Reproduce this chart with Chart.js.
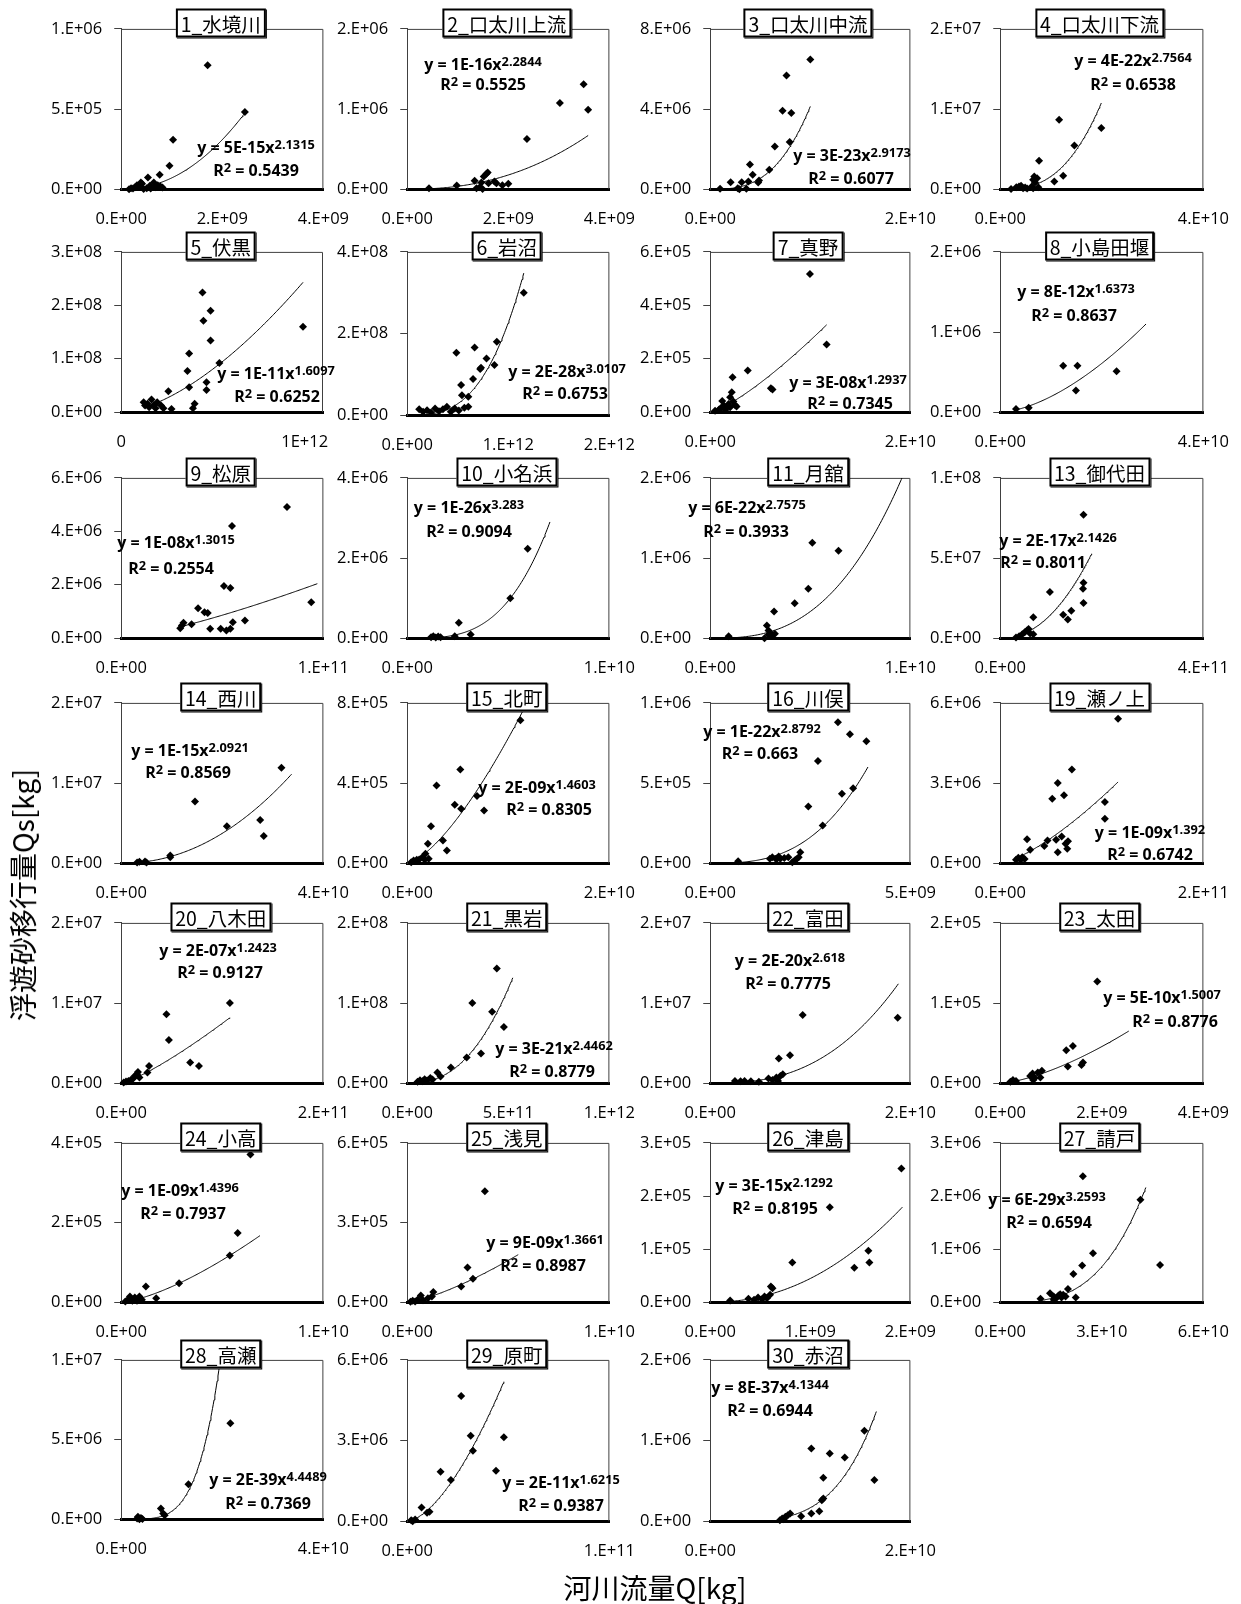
<!DOCTYPE html>
<html>
<head>
<meta charset="utf-8">
<script src="https://cdn.jsdelivr.net/npm/chart.js@4.4.1/dist/chart.umd.min.js"></script>
<style>
body { margin: 0; background: #fff; }
#page { position: relative; width: 1241px; height: 1604px; overflow: hidden; background: #fff; }
canvas { position: absolute; }
.ttl { position: absolute; z-index: 3; transform: translate(-50%, -50%); background: #fff; border: 2.5px solid #000;
       box-shadow: 1px 1px 0 #000; font: 19.5px "Noto Sans CJK JP"; line-height: 25px; padding: 0 3px; white-space: nowrap; color: #000; }
.eq { position: absolute; z-index: 2; transform: translate(-50%, -50%); font: bold 16px "Open Sans"; line-height: 1; white-space: nowrap; color: #000; }
.eq sup { font-size: 0.8em; vertical-align: 0.3em; line-height: 0; }
.axt { position: absolute; z-index: 2; font: 28px "Noto Sans CJK JP"; white-space: nowrap; color: #000; transform: translate(-50%, -50%); }
</style>
</head>
<body>
<div id="page"></div>
<script>
// station names (panel titles)
const stations = ['1_水境川', '2_口太川上流', '3_口太川中流', '4_口太川下流',
  '5_伏黒', '6_岩沼', '7_真野', '8_小島田堰',
  '9_松原', '10_小名浜', '11_月舘', '13_御代田',
  '14_西川', '15_北町', '16_川俣', '19_瀬ノ上',
  '20_八木田', '21_黒岩', '22_富田', '23_太田',
  '24_小高', '25_浅見', '26_津島', '27_請戸',
  '28_高瀬', '29_原町', '30_赤沼'];

// river flow Q (x values), one list per station
const flowQ = [
  [1.55e8,1.94e8,2.33e8,2.72e8,3.11e8,3.5e8,3.88e8,4.12e8,4.43e8,5.05e8,5.28e8,5.67e8,5.83e8,6.45e8,6.76e8,7.22e8,7.61e8,7.77e8,8.16e8,9.55e8,1.025e9,1.709e9,2.447e9],
  [4.31e8,9.8e8,1.333e9,1.37e9,1.435e9,1.467e9,1.49e9,1.514e9,1.569e9,1.592e9,1.608e9,1.725e9,1.765e9,1.882e9,2.0e9,2.369e9,3.02e9,3.49e9,3.58e9],
  [9.8e8,2.04e9,2.75e9,2.91e9,3.14e9,3.61e9,3.81e9,3.97e9,4.24e9,4.79e9,4.87e9,5.9e9,6.45e9,7.23e9,7.62e9,7.94e9,8.1e9,1.0e10],
  [2.13e9,3.16e9,3.7e9,4.1e9,4.5e9,4.9e9,5.3e9,6.2e9,6.47e9,6.47e9,6.7e9,6.86e9,7.26e9,7.5e9,7.65e9,1.065e10,1.16e10,1.24e10,1.46e10,1.99e10],
  [1.22e11,1.3e11,1.43e11,1.52e11,1.65e11,1.78e11,1.87e11,1.96e11,2.17e11,2.3e11,2.57e11,2.74e11,3.61e11,3.7e11,3.7e11,3.91e11,4.0e11,4.43e11,4.48e11,4.65e11,4.65e11,4.87e11,4.87e11,5.35e11,9.91e11],
  [1.18e11,1.57e11,1.96e11,2.35e11,2.75e11,3.14e11,3.53e11,3.92e11,4.31e11,4.7e11,5.1e11,5.65e11,6.04e11,4.86e11,5.33e11,5.41e11,6.04e11,6.51e11,6.67e11,7.22e11,7.3e11,7.84e11,8.63e11,8.86e11,1.153e12],
  [4.8e8,8.8e8,1.04e9,1.2e9,1.35e9,1.51e9,1.67e9,1.83e9,1.99e9,1.99e9,2.15e9,2.23e9,2.31e9,2.47e9,2.63e9,3.75e9,6.06e9,6.22e9,9.96e9,1.163e10],
  [3.1e9,5.6e9,1.24e10,1.49e10,1.52e10,2.29e10],
  [2.92e10,3.0e10,3.08e10,3.48e10,3.8e10,4.12e10,4.28e10,4.4e10,4.92e10,5.08e10,5.2e10,5.4e10,5.4e10,5.48e10,5.52e10,6.12e10,8.2e10,9.4e10],
  [1.18e9,1.29e9,1.41e9,1.53e9,1.65e9,2.35e9,2.55e9,3.14e9,5.1e9,5.96e9],
  [9.2e8,2.71e9,2.83e9,2.91e9,2.91e9,2.99e9,3.1e9,3.19e9,3.23e9,4.22e9,4.9e9,5.1e9,6.41e9],
  [3.1e10,3.72e10,4.34e10,4.81e10,5.27e10,5.58e10,5.89e10,6.51e10,6.51e10,9.77e10,1.24e11,1.33e11,1.4e11,1.63e11,1.64e11,1.64e11,1.64e11],
  [3.14e9,3.6e9,4.7e9,5.0e9,9.7e9,9.7e9,1.46e10,2.09e10,2.75e10,2.82e10,3.17e10],
  [3.9e8,6.3e8,9.4e8,1.18e9,1.49e9,1.73e9,1.8e9,2.04e9,2.12e9,2.35e9,2.9e9,3.53e9,3.92e9,4.7e9,5.25e9,5.33e9,6.9e9,7.6e9,1.12e10],
  [6.97e8,1.49e9,1.55e9,1.65e9,1.71e9,1.75e9,1.85e9,1.95e9,2.05e9,2.11e9,2.15e9,2.21e9,2.25e9,2.45e9,2.69e9,2.81e9,3.19e9,3.29e9,3.49e9,3.57e9,3.9e9],
  [1.55e10,1.78e10,2.02e10,2.17e10,2.4e10,2.64e10,2.95e10,4.34e10,4.65e10,5.12e10,5.5e10,5.66e10,5.66e10,6.05e10,6.28e10,6.43e10,6.6e10,6.67e10,7.05e10,1.03e11,1.03e11,1.16e11],
  [2.4e9,4.7e9,7.1e9,9.4e9,1.18e10,1.33e10,1.57e10,1.65e10,1.8e10,2.59e10,2.75e10,4.47e10,4.71e10,6.82e10,7.69e10,1.075e11],
  [5.1e10,6.3e10,7.5e10,8.6e10,9.8e10,1.14e11,1.25e11,1.49e11,1.65e11,2.16e11,2.94e11,3.22e11,3.65e11,4.2e11,4.43e11,4.78e11],
  [2.47e9,3.03e9,3.43e9,4.06e9,4.86e9,5.82e9,6.22e9,6.61e9,6.77e9,6.85e9,7.01e9,7.25e9,7.97e9,9.24e9,1.873e10],
  [2.0e8,2.5e8,3.1e8,5.9e8,6.36e8,6.5e8,6.8e8,7.4e8,7.9e8,8.2e8,1.3e9,1.33e9,1.43e9,1.6e9,1.63e9,1.91e9],
  [2.0e8,3.5e8,4.3e8,5.5e8,6.7e8,7.8e8,9.0e8,1.02e9,1.22e9,1.73e9,2.86e9,5.37e9,5.76e9,6.39e9],
  [1.6e8,2.7e8,3.9e8,5.1e8,6.7e8,7.8e8,1.02e9,1.22e9,1.29e9,2.67e9,2.98e9,3.25e9,3.84e9],
  [1.99e8,3.82e8,4.38e8,4.78e8,5.18e8,5.42e8,5.66e8,5.98e8,6.06e8,6.22e8,8.2e8,1.195e9,1.44e9,1.58e9,1.59e9,1.91e9],
  [1.19e10,1.47e10,1.58e10,1.58e10,1.65e10,1.72e10,1.77e10,1.81e10,1.86e10,1.93e10,2.0e10,2.16e10,2.23e10,2.42e10,2.44e10,2.74e10,4.14e10,4.72e10],
  [3.14e9,3.3e9,3.6e9,3.9e9,4.2e9,7.84e9,8.3e9,8.6e9,1.33e10,2.16e10],
  [1.96e9,2.7e9,3.9e9,7.1e9,9.8e9,1.1e10,1.65e10,2.16e10,2.67e10,3.14e10,3.25e10,4.39e10,4.78e10],
  [6.96e9,7.19e9,7.35e9,7.51e9,7.75e9,7.98e9,9.09e9,1.01e10,1.01e10,1.09e10,1.115e10,1.13e10,1.13e10,1.194e10,1.344e10,1.54e10,1.64e10]
];

// suspended sediment load Qs (y values), one list per station
const sedQs = [
  [0,6.3e3,4e3,1.25e4,2.5e4,1.67e4,4.2e4,3.33e4,2e3,6e3,7.3e4,2.1e4,4e3,4.2e4,1.25e4,2.5e4,9e4,1.67e4,1e4,1.46e5,3.08e5,7.73e5,4.81e5],
  [1.25e4,4.6e4,1.04e5,1.25e4,2.5e4,8.3e4,4e3,1.58e5,1.92e5,2.08e5,7.5e4,9.6e4,7.5e4,5e4,6.7e4,6.25e5,1.075e6,1.31e6,9.9e5],
  [2e4,3.5e5,5e4,0,3.5e5,2e4,3.8e5,1.23e6,7.2e5,3.3e5,4.3e5,9.7e5,2.13e6,3.92e6,5.67e6,2.35e6,3.8e6,6.47e6],
  [2e4,2.5e5,3.3e5,4.2e5,1.25e5,2.1e5,8e4,3.3e5,1.17e6,1.25e5,1.58e6,8.3e5,1.38e6,2.5e5,3.54e6,9.6e5,8.67e6,1.67e6,5.46e6,7.63e6],
  [1.87e7,1.24e7,1.56e7,9.3e6,2.37e7,1.37e7,7.5e6,1.87e7,1.24e7,7.5e6,3.9e7,6.2e6,7.7e7,4.67e7,1.1e8,7.5e6,1.56e7,2.24e8,1.71e8,5.6e7,4.17e7,1.9e8,1.34e8,9.2e7,1.6e8],
  [1.48e7,8.2e6,1.23e7,6.6e6,1.64e7,9.8e6,1.48e7,2.05e7,8.2e6,1.64e7,1.15e7,1.8e7,2.05e7,1.53e8,7.4e7,4.9e7,4.5e7,8.85e7,1.66e8,1.13e8,1.16e8,1.39e8,1.23e8,1.8e8,3.0e8],
  [5e3,1e4,1.5e4,4.2e4,2.5e4,8.7e3,1.87e4,3.1e4,1.87e4,5.6e4,7.5e4,1.31e5,4e4,2.7e4,2.1e4,1.56e5,9e4,8.5e4,5.17e5,2.53e5],
  [4.1e4,5.4e4,5.8e5,2.7e5,5.8e5,5.1e5],
  [3.75e5,4.75e5,5.75e5,5.25e5,1.125e6,9.75e5,9.4e5,3.5e5,3.5e5,1.95e6,2.9e5,1.875e6,3.5e5,4.2e6,6e5,6.6e5,4.91e6,1.35e6],
  [2.5e4,5e4,1.7e4,4.2e4,2.5e4,5e4,3.83e5,9.2e4,1.0e6,2.23e6],
  [2.5e4,0,1.58e5,9.6e4,4.2e4,5.4e4,4.2e4,3.33e5,5.4e4,4.37e5,6.17e5,1.19e6,1.09e6],
  [4e5,1.25e6,2.5e6,3.75e6,4.8e6,5.8e6,2.9e6,2.5e6,1.31e7,2.88e7,1.46e7,1.17e7,1.71e7,3.08e7,3.46e7,2.19e7,7.7e7],
  [8e4,1.7e5,2e5,8e4,7.5e5,9.6e5,7.7e6,4.6e6,5.4e6,3.4e6,1.19e7],
  [5e3,1.3e4,1.7e4,1.8e4,3e4,1.7e4,4.7e4,9.7e4,2.2e4,1.85e5,3.88e5,1.13e5,6.3e4,2.92e5,4.68e5,2.72e5,3.35e5,2.63e5,7.13e5],
  [1.25e4,2.7e4,3.75e4,2.3e4,4.2e4,2.7e4,3.3e4,3.75e4,6e3,1.7e4,2.5e4,3.75e4,6.9e4,3.54e5,6.38e5,2.35e5,8.8e5,4.33e5,8.04e5,4.67e5,7.6e5],
  [1.25e5,2e5,1.25e5,2.25e5,1.6e5,9e5,5e5,6.4e5,8.5e5,2.41e6,8.75e5,4.1e5,3.0e6,1.0e6,2.54e6,7.25e5,5.4e5,8.25e5,3.51e6,2.29e6,1.66e6,5.41e6],
  [8e4,2.1e5,2.9e5,4.1e5,5.8e5,9.1e5,1.12e6,1.41e6,7.1e5,1.33e6,2.16e6,8.6e6,5.4e6,2.57e6,2.16e6,1.0e7],
  [1.7e6,3.7e6,2.5e6,5e6,3.3e6,6.6e6,4.6e6,1.33e7,8.3e6,1.95e7,3.2e7,1.0e8,3.7e7,8.9e7,1.43e8,7.0e7],
  [2.9e5,2.5e5,2.9e5,2.5e5,1.7e5,5.8e5,4.1e5,7.1e5,2.9e5,3.07e6,9.1e5,1.12e6,3.49e6,8.5e6,8.17e6],
  [1.7e3,4.1e3,2.9e3,9.1e3,1.2e4,4.1e3,6.6e3,1.33e4,7.1e3,1.54e4,4.1e4,2.07e4,4.65e4,2.28e4,2.57e4,1.27e5],
  [1.7e3,7.5e3,1.43e4,3.4e3,1.17e4,3.4e3,1.43e4,5.9e3,3.94e4,1.0e4,4.78e4,1.17e5,1.74e5,3.71e5],
  [1.3e3,5e3,2.5e3,8.8e3,2.5e4,7.5e3,1.5e4,2.1e4,3.8e4,5.9e4,1.31e5,8.8e4,4.18e5],
  [3.1e3,6.3e3,4.4e3,8.8e3,5.7e3,1.07e4,7.5e3,1.38e4,2.96e4,2.64e4,7.5e4,1.79e5,6.5e4,9.7e4,7.5e4,2.52e5],
  [6.3e4,1.7e5,1.07e5,4.4e4,7.5e4,1.26e5,1.5e5,8.8e4,1.38e5,1.07e5,2.5e5,5.3e5,8.8e4,6.9e5,2.37e6,9.2e5,1.93e6,7.0e5],
  [4e4,1.5e5,0,8e4,2e4,6.7e5,3.6e5,2.5e5,2.2e6,6.02e6],
  [3.7e4,0,6.2e4,5.1e5,3.1e5,3.5e5,1.84e6,1.53e6,4.66e6,3.18e6,2.62e6,1.88e6,3.12e6],
  [1.2e4,3.3e4,2.5e4,5.4e4,7.5e4,9.5e4,6.2e4,9.5e4,9.0e5,1.24e5,2.6e5,2.8e5,5.4e5,8.4e5,7.9e5,1.12e6,5.1e5]
];

// power trendline y = a x^b : label text, plus the drawn span (from, to) and the curve value at "to"
const fitCoef = ['5E-15','1E-16','3E-23','4E-22','1E-11','2E-28','3E-08','8E-12','1E-08','1E-26','6E-22','2E-17',
  '1E-15','2E-09','1E-22','1E-09','2E-07','3E-21','2E-20','5E-10','1E-09','9E-09','3E-15','6E-29','2E-39','2E-11','8E-37'];
const fitExp = ['2.1315','2.2844','2.9173','2.7564','1.6097','3.0107','1.2937','1.6373','1.3015','3.283','2.7575','2.1426',
  '2.0921','1.4603','2.8792','1.392','1.2423','2.4462','2.618','1.5007','1.4396','1.3661','2.1292','3.2593','4.4489','1.6215','4.1344'];
const fitR2 = ['0.5439','0.5525','0.6077','0.6538','0.6252','0.6753','0.7345','0.8637','0.2554','0.9094','0.3933','0.8011',
  '0.8569','0.8305','0.663','0.6742','0.9127','0.8779','0.7775','0.8776','0.7937','0.8987','0.8195','0.6594','0.7369','0.9387','0.6944'];
const fitFrom = [1.55e8,4.31e8,9.8e8,2.13e9,1.22e11,1.18e11,4.8e8,3.1e9,2.92e10,1.18e9,9.2e8,3.1e10,
  3.14e9,3.9e8,6.97e8,1.55e10,2.4e9,5.1e10,2.47e9,2.0e8,2.0e8,1.6e8,1.99e8,1.19e10,3.14e9,1.96e9,6.96e9];
const fitTo = [2.447e9,3.58e9,1.0e10,1.99e10,9.91e11,1.153e12,1.163e10,2.87e10,9.7e10,7.06e9,1.0e10,1.8e11,
  3.37e10,1.18e10,3.94e9,1.16e11,1.075e11,5.22e11,1.88e10,2.53e9,6.86e9,5.49e9,1.92e9,4.3e10,2.16e10,4.78e10,1.66e10];
const fitEnd = [4.75e5,6.7e5,4.13e6,1.075e7,2.43e8,3.48e8,3.27e5,1.1e6,2.04e6,2.9e6,2.25e6,5.27e7,
  1.11e7,7.95e5,6.0e5,3.04e6,8.17e6,1.315e8,1.24e7,6.5e4,1.67e5,1.79e5,1.79e5,2.16e6,1.54e7,5.19e6,1.36e6];

// tick labels (Excel "0.E+00" style)
const xTickText = [
  ['0.E+00','2.E+09','4.E+09'], ['0.E+00','2.E+09','4.E+09'], ['0.E+00','2.E+10'], ['0.E+00','4.E+10'],
  ['0','1E+12'], ['0.E+00','1.E+12','2.E+12'], ['0.E+00','2.E+10'], ['0.E+00','4.E+10'],
  ['0.E+00','1.E+11'], ['0.E+00','1.E+10'], ['0.E+00','1.E+10'], ['0.E+00','4.E+11'],
  ['0.E+00','4.E+10'], ['0.E+00','2.E+10'], ['0.E+00','5.E+09'], ['0.E+00','2.E+11'],
  ['0.E+00','2.E+11'], ['0.E+00','5.E+11','1.E+12'], ['0.E+00','2.E+10'], ['0.E+00','2.E+09','4.E+09'],
  ['0.E+00','1.E+10'], ['0.E+00','1.E+10'], ['0.E+00','1.E+09','2.E+09'], ['0.E+00','3.E+10','6.E+10'],
  ['0.E+00','4.E+10'], ['0.E+00','1.E+11'], ['0.E+00','2.E+10']
];
const yTickText = [
  ['0.E+00','5.E+05','1.E+06'], ['0.E+00','1.E+06','2.E+06'], ['0.E+00','4.E+06','8.E+06'], ['0.E+00','1.E+07','2.E+07'],
  ['0.E+00','1.E+08','2.E+08','3.E+08'], ['0.E+00','2.E+08','4.E+08'], ['0.E+00','2.E+05','4.E+05','6.E+05'], ['0.E+00','1.E+06','2.E+06'],
  ['0.E+00','2.E+06','4.E+06','6.E+06'], ['0.E+00','2.E+06','4.E+06'], ['0.E+00','1.E+06','2.E+06'], ['0.E+00','5.E+07','1.E+08'],
  ['0.E+00','1.E+07','2.E+07'], ['0.E+00','4.E+05','8.E+05'], ['0.E+00','5.E+05','1.E+06'], ['0.E+00','3.E+06','6.E+06'],
  ['0.E+00','1.E+07','2.E+07'], ['0.E+00','1.E+08','2.E+08'], ['0.E+00','1.E+07','2.E+07'], ['0.E+00','1.E+05','2.E+05'],
  ['0.E+00','2.E+05','4.E+05'], ['0.E+00','3.E+05','6.E+05'], ['0.E+00','1.E+05','2.E+05','3.E+05'], ['0.E+00','1.E+06','2.E+06','3.E+06'],
  ['0.E+00','5.E+06','1.E+07'], ['0.E+00','3.E+06','6.E+06'], ['0.E+00','1.E+06','2.E+06']
];
const xAxisMax = [4e9,4e9,2e10,4e10,1.1e12,2e12,2e10,4e10,1e11,1e10,1e10,4e11,4e10,2e10,5e9,2e11,
  2e11,1e12,2e10,4e9,1e10,1e10,2e9,6e10,4e10,1e11,2e10];

// layout: plot-area edges on the page, and equation label centres [x1, y1, x2, y2]
const colLeft = [121.5, 407.5, 710, 1000];
const colRight = [324, 610, 910, 1203];
const rowTop = [29.3, 251.5, 477.7, 702.7, 923.3, 1143.3, 1360];
const rowBottom = [189.5, 412, 637.7, 862.7, 1084, 1302.3, 1519];
const bottomShift = [0,0,0,0, 0,3,0,0, 0,0,0,0, 0,0,0,0, 0,0,0,0, 0,0,0,0, 0,2,2];
const eqPos = [
  [256,147,256,170], [483,64,483,84], [852,155,851,178], [1133,60,1133,84],
  [276,373,277,396], [567,371,565,393], [848,382,850,403], [1076,291,1074,315],
  [176,542,171,568], [469,507,469,531], [747,507,746,531], [1058,540,1043,562],
  [190,750,188,772], [537,787,549,809], [762,731,760,753], [1150,832,1150,854],
  [218,950,220,972], [554,1048,552,1071], [790,960,788,983], [1162,997,1175,1021],
  [180,1190,183,1213], [545,1242,543,1265], [774,1185,775,1208], [1047,1199,1049,1222],
  [268,1479,268,1503], [561,1482,561,1505], [770,1387,770,1410]
];

const page = document.getElementById('page');
const tickFont = { family: 'Open Sans', size: 16.5 };
const axisGrey = '#404040';

const framePlugin = {
  id: 'frame',
  beforeDatasetsDraw(chart) {
    const { ctx, chartArea: a } = chart;
    ctx.save();
    ctx.strokeStyle = axisGrey;
    ctx.lineWidth = 1;
    ctx.beginPath();
    ctx.moveTo(a.left, a.top + 0.5);
    ctx.lineTo(a.right - 0.5, a.top + 0.5);
    ctx.lineTo(a.right - 0.5, a.bottom);
    ctx.stroke();
    ctx.restore();
  }
};

function trendPoints(i) {
  // fitted power curve, anchored at its drawn end value
  const b = parseFloat(fitExp[i]);
  const pts = [];
  for (let k = 0; k <= 120; k++) {
    const x = fitFrom[i] + (fitTo[i] - fitFrom[i]) * k / 120;
    pts.push({ x: x, y: fitEnd[i] * Math.pow(x / fitTo[i], b) });
  }
  return pts;
}

function config(i) {
  const xv = xTickText[i].map(Number);
  const yv = yTickText[i].map(Number);
  return {
    type: 'scatter',
    data: {
      datasets: [
        {
          data: flowQ[i].map((q, k) => ({ x: q, y: sedQs[i][k] })),
          pointStyle: 'rectRot', pointRadius: 4, pointHoverRadius: 4,
          backgroundColor: '#000', borderColor: '#000', borderWidth: 0, clip: 8
        },
        {
          data: trendPoints(i), showLine: true, pointRadius: 0,
          borderColor: '#000', borderWidth: 1, fill: false, clip: 0
        }
      ]
    },
    options: {
      responsive: false, maintainAspectRatio: false, animation: false, devicePixelRatio: 1,
      layout: { padding: { top: 14, right: 36, left: 0, bottom: 0 } },
      plugins: { legend: { display: false }, tooltip: { enabled: false } },
      scales: {
        x: {
          type: 'linear', min: 0, max: xAxisMax[i],
          afterBuildTicks: s => { s.ticks = xv.map(v => ({ value: v })); },
          ticks: { autoSkip: false, maxRotation: 0, padding: 20, color: '#000', font: tickFont,
                   callback: v => xTickText[i][xv.indexOf(v)] },
          grid: { display: false, drawTicks: false },
          border: { display: true, color: '#000', width: 3 }
        },
        y: {
          type: 'linear', min: 0, max: yv[yv.length - 1],
          afterBuildTicks: s => { s.ticks = yv.map(v => ({ value: v })); },
          ticks: { autoSkip: false, padding: 12, color: '#000', font: tickFont,
                   callback: v => yTickText[i][yv.indexOf(v)] },
          grid: { drawOnChartArea: false, drawTicks: true, tickLength: 7, color: axisGrey },
          border: { display: true, color: axisGrey, width: 1 }
        }
      }
    },
    plugins: [framePlugin]
  };
}

function makeChart(i, w, h) {
  const cv = document.createElement('canvas');
  cv.width = Math.round(w);
  cv.height = Math.round(h);
  page.appendChild(cv);
  return new Chart(cv, config(i));
}

stations.forEach((name, i) => {
  const r = Math.floor(i / 4), c = i % 4;
  const L = colLeft[c], R = colRight[c], T = rowTop[r], B = rowBottom[r] + bottomShift[i];
  let w = R - L + 140, h = B - T + 65;
  let chart = makeChart(i, w, h);
  let a = chart.chartArea;
  w += (R - L) - (a.right - a.left);
  h += (B - T) - (a.bottom - a.top);
  const old = chart.canvas;
  chart.destroy();
  old.remove();
  chart = makeChart(i, w, h);
  a = chart.chartArea;
  chart.canvas.style.left = (L - a.left) + 'px';
  chart.canvas.style.top = (T - a.top) + 'px';

  const t = document.createElement('div');
  t.className = 'ttl';
  t.textContent = name;
  t.style.left = ((L + R) / 2 - 2) + 'px';
  t.style.top = (T - 6) + 'px';
  page.appendChild(t);

  const p = eqPos[i];
  const e1 = document.createElement('div');
  e1.className = 'eq';
  e1.innerHTML = 'y = ' + fitCoef[i] + 'x<sup>' + fitExp[i] + '</sup>';
  e1.style.left = p[0] + 'px';
  e1.style.top = p[1] + 'px';
  page.appendChild(e1);
  const e2 = document.createElement('div');
  e2.className = 'eq';
  e2.innerHTML = 'R<sup>2</sup> = ' + fitR2[i];
  e2.style.left = p[2] + 'px';
  e2.style.top = p[3] + 'px';
  page.appendChild(e2);
});

const yt = document.createElement('div');
yt.className = 'axt';
yt.textContent = '浮遊砂移行量Qs[kg]';
yt.style.left = '22px';
yt.style.top = '895px';
yt.style.transform = 'translate(-50%, -50%) rotate(-90deg)';
page.appendChild(yt);

const xt = document.createElement('div');
xt.className = 'axt';
xt.textContent = '河川流量Q[kg]';
xt.style.left = '655px';
xt.style.top = '1587px';
page.appendChild(xt);
</script>
</body>
</html>
